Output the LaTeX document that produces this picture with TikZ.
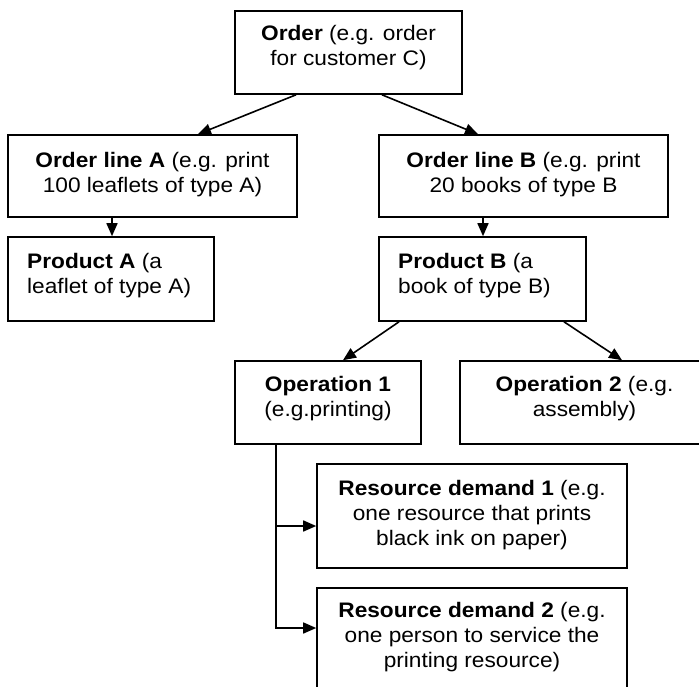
\documentclass[tikz,border=0pt]{standalone}
\usepackage{fontspec}
\setmainfont{Liberation Sans}[FakeStretch=1.08]
\usetikzlibrary{arrows.meta,calc}
\begin{document}
\begin{tikzpicture}[x=1pt,y=-1pt,
  box/.style={draw,line width=1.6pt,inner sep=0pt},
  txt/.style={inner sep=0pt,align=center,font=\fontsize{21}{25}\selectfont,anchor=north},
  ltxt/.style={txt,align=left,anchor=north west},
  arr/.style={line width=1.6pt,-{Triangle[length=13pt,width=11pt]}}]
\useasboundingbox (0,0) rectangle (699,686);
\clip (0,0) rectangle (699,686);
% boxes
\node[box,minimum width=227pt,minimum height=83pt] (ord) at (348.5,52.5) {};
\node[box,minimum width=289pt,minimum height=82pt] (ola) at (152.5,176) {};
\node[box,minimum width=289pt,minimum height=82pt] (olb) at (523.5,176) {};
\node[box,minimum width=206pt,minimum height=84pt] (pa) at (111,279) {};
\node[box,minimum width=207pt,minimum height=84pt] (pb) at (482.5,279) {};
\node[box,minimum width=186pt,minimum height=83pt] (op1) at (328,402.5) {};
\node[box,minimum width=249pt,minimum height=83pt] (op2) at (584.5,402.5) {};
\node[box,minimum width=310pt,minimum height=104pt] (rd1) at (472,516) {};
\node[box,minimum width=310pt,minimum height=104pt] (rd2) at (472,640) {};
% texts
\node[txt] (ordT) at (348.5,24.7) {\textbf{Order} (e.g. order\\for customer C)};
\node[txt] (olaT) at (152.5,151.7) {\textbf{Order line A} (e.g. print\\100 leaflets of type A)};
\node[txt] (olbT) at (523.5,151.7) {\textbf{Order line B} (e.g. print\\20 books of type B};
\node[ltxt] (paT) at (27,252.7) {\textbf{Product A} (a\\leaflet of type A)};
\node[ltxt] (pbT) at (398,252.7) {\textbf{Product B} (a\\book of type B)};
\node[txt] (op1T) at (328,375.7) {\textbf{Operation 1}\\(e.g.printing)};
\node[txt] (op2T) at (584.5,375.7) {\textbf{Operation 2} (e.g.\\assembly)};
\node[txt] (rd1T) at (472,479.7) {\textbf{Resource demand 1} (e.g.\\one resource that prints\\black ink on paper)};
\node[txt] (rd2T) at (472,601.7) {\textbf{Resource demand 2} (e.g.\\one person to service the\\printing resource)};
% connectors
\draw[arr] ([xshift=-52.5pt]ord.south) -- ([xshift=45.5pt]ola.north);
\draw[arr] ([xshift=33.5pt]ord.south) -- ([xshift=-45.5pt]olb.north);
\draw[arr] ([xshift=-40.5pt]ola.south) -- ([xshift=-40.5pt]ola.south |- pa.north);
\draw[arr] ([xshift=-40.5pt]olb.south) -- ([xshift=-40.5pt]olb.south |- pb.north);
\draw[arr] ([xshift=-83.5pt]pb.south) -- ([xshift=15pt]op1.north);
\draw[arr] ([xshift=81.5pt]pb.south) -- ([xshift=37.5pt]op2.north);
\draw[arr] ([xshift=-52pt]op1.south) |- ([yshift=-10pt]rd1.west);
\draw[arr] ([xshift=-52pt]op1.south) |- ([yshift=12pt]rd2.west);
\end{tikzpicture}
\end{document}
